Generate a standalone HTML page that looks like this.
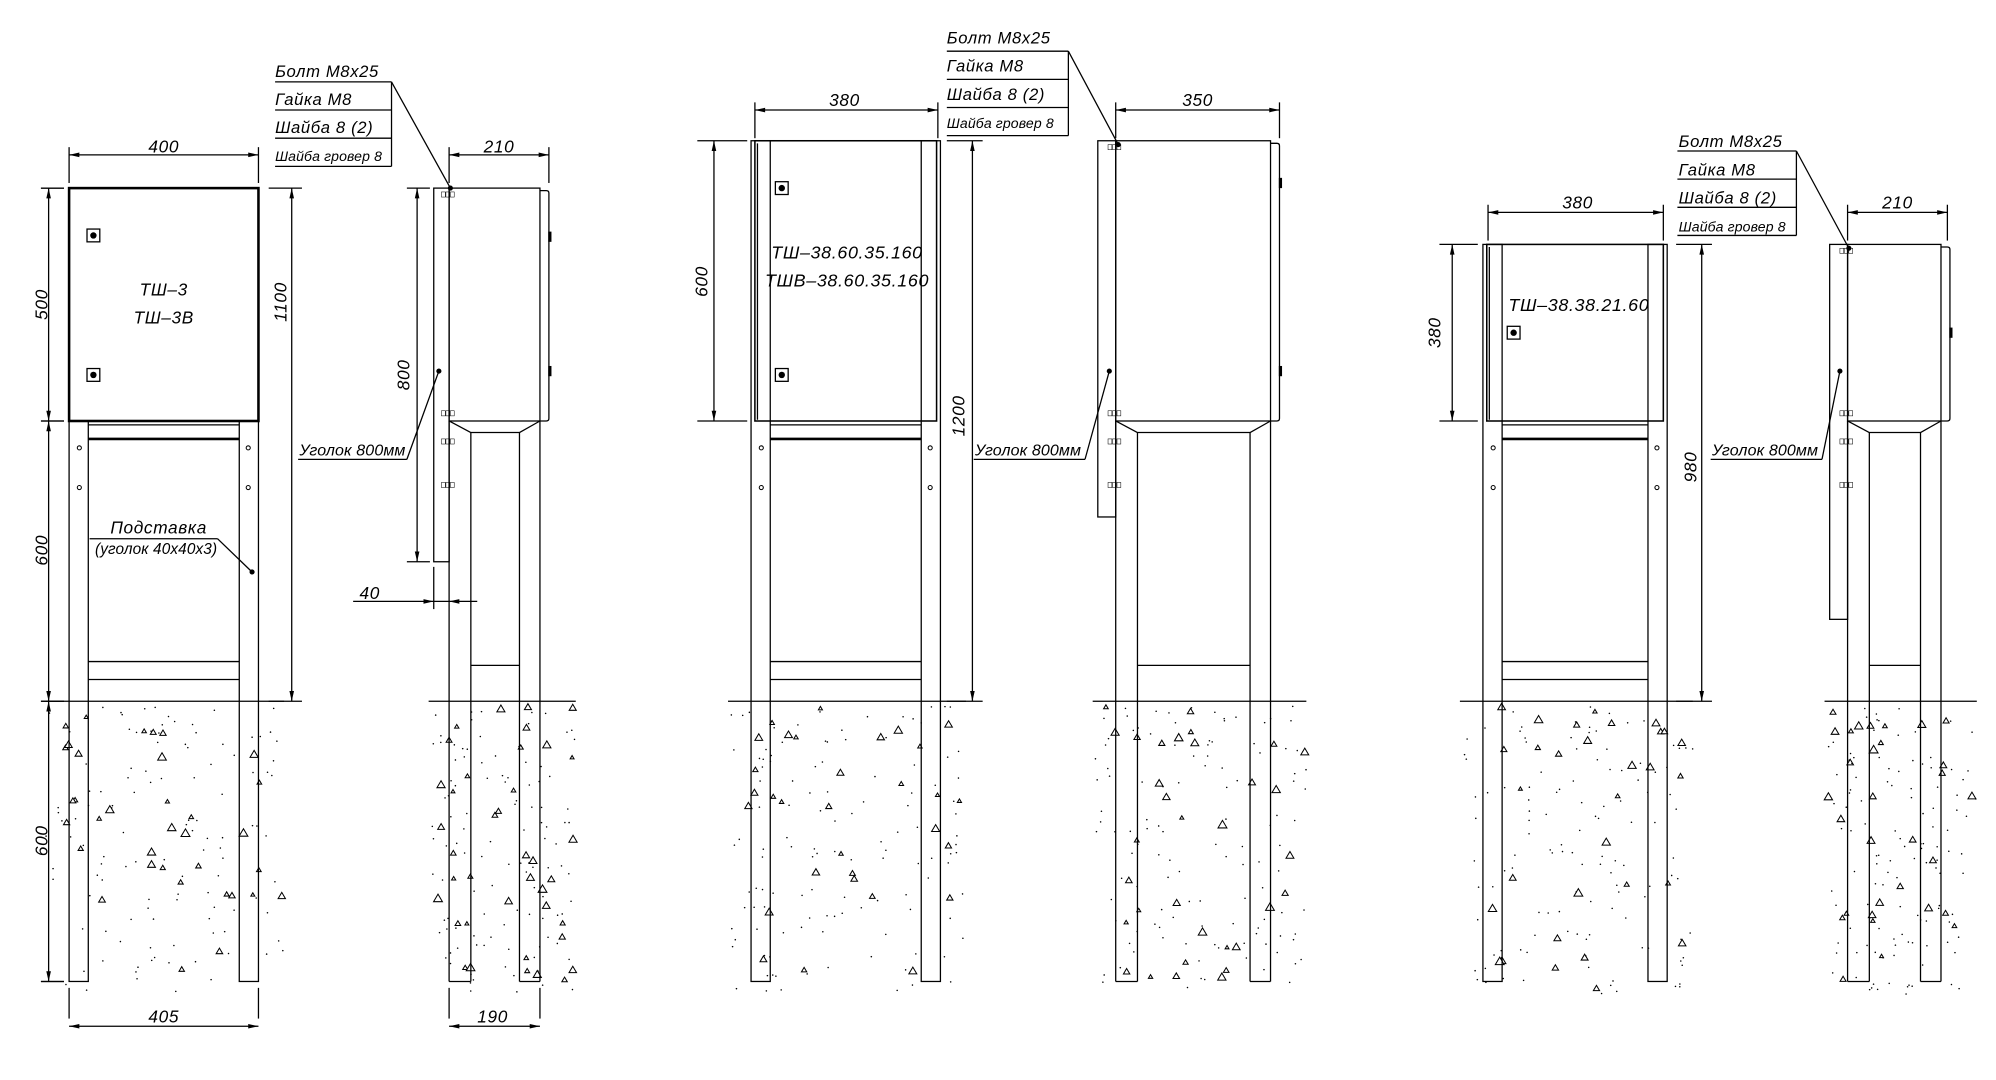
<!DOCTYPE html>
<html><head><meta charset="utf-8"><style>
html,body{margin:0;padding:0;background:#fff;width:1996px;height:1080px;overflow:hidden}
svg{display:block}
text{font-family:"Liberation Sans","DejaVu Sans",sans-serif;font-style:italic;fill:#000;letter-spacing:0.5px}
.t{letter-spacing:0.1px}
</style></head><body>
<svg id="s" width="1996" height="1080" viewBox="0 0 1560 844" preserveAspectRatio="none" xmlns="http://www.w3.org/2000/svg">
<g id="g" stroke="#000" stroke-width="1" fill="none"></g>
<g font-size="13.5">
<!-- panel 1 -->
<text x="128" y="119" text-anchor="middle">400</text>
<text x="128" y="231" text-anchor="middle">ТШ–3</text>
<text x="128" y="253" text-anchor="middle">ТШ–3В</text>
<text transform="translate(37,238) rotate(-90)" text-anchor="middle">500</text>
<text transform="translate(37,430) rotate(-90)" text-anchor="middle">600</text>
<text transform="translate(37,657) rotate(-90)" text-anchor="middle">600</text>
<text transform="translate(224,236) rotate(-90)" text-anchor="middle">1100</text>
<text x="128" y="799" text-anchor="middle">405</text>
<text x="124" y="417" text-anchor="middle">Подставка</text>
<text class="t" x="122" y="433" text-anchor="middle" font-size="12">(уголок 40x40x3)</text>
<text x="215" y="60" font-size="13">Болт  M8x25</text>
<text x="215" y="82" font-size="13">Гайка  M8</text>
<text x="215" y="104" font-size="13">Шайба  8  (2)</text>
<text class="t" x="215" y="126" font-size="11">Шайба  гровер  8</text>
<text x="390" y="119" text-anchor="middle">210</text>
<text transform="translate(320,293) rotate(-90)" text-anchor="middle">800</text>
<text class="t" x="234" y="356" font-size="12.5">Уголок 800мм</text>
<text x="289" y="468" text-anchor="middle">40</text>
<text x="385" y="799" text-anchor="middle">190</text>
<!-- panel 2 -->
<text x="660" y="83" text-anchor="middle">380</text>
<text x="662" y="202" text-anchor="middle" font-size="14">ТШ–38.60.35.160</text>
<text x="662" y="224" text-anchor="middle" font-size="14">ТШВ–38.60.35.160</text>
<text transform="translate(553,220) rotate(-90)" text-anchor="middle">600</text>
<text transform="translate(754,325) rotate(-90)" text-anchor="middle">1200</text>
<text x="740" y="34" font-size="13">Болт  M8x25</text>
<text x="740" y="56" font-size="13">Гайка  M8</text>
<text x="740" y="78" font-size="13">Шайба  8  (2)</text>
<text class="t" x="740" y="100" font-size="11">Шайба  гровер  8</text>
<text x="936" y="83" text-anchor="middle">350</text>
<text class="t" x="762" y="356" font-size="12.5">Уголок 800мм</text>
<!-- panel 3 -->
<text x="1233" y="163" text-anchor="middle">380</text>
<text x="1234" y="243" text-anchor="middle" font-size="14">ТШ–38.38.21.60</text>
<text transform="translate(1126,260) rotate(-90)" text-anchor="middle">380</text>
<text transform="translate(1326,365) rotate(-90)" text-anchor="middle">980</text>
<text x="1312" y="115" font-size="13">Болт  M8x25</text>
<text x="1312" y="137" font-size="13">Гайка  M8</text>
<text x="1312" y="159" font-size="13">Шайба  8  (2)</text>
<text class="t" x="1312" y="181" font-size="11">Шайба  гровер  8</text>
<text x="1483" y="163" text-anchor="middle">210</text>
<text class="t" x="1338" y="356" font-size="12.5">Уголок 800мм</text>
</g>
</svg>
<script>
var G=document.getElementById('g'),NS='http://www.w3.org/2000/svg';
function el(t,a){var e=document.createElementNS(NS,t);for(var k in a)e.setAttribute(k,a[k]);G.appendChild(e);return e;}
function L(x1,y1,x2,y2,w){el('line',{x1:x1,y1:y1,x2:x2,y2:y2,'stroke-width':w||1});}
function R(x,y,w,h,sw){el('rect',{x:x,y:y,width:w,height:h,'stroke-width':sw||1});}
function arr(x,y,dx,dy){var l=8,h=1.8;var px=-dy,py=dx;el('polygon',{points:x+','+y+' '+(x+dx*l+px*h)+','+(y+dy*l+py*h)+' '+(x+dx*l-px*h)+','+(y+dy*l-py*h),fill:'#000',stroke:'none'});}
function dimH(x1,x2,y,fy1,fy2){L(x1,y,x2,y);arr(x1,y,1,0);arr(x2,y,-1,0);L(x1,y-6,x1,fy1);L(x2,y-6,x2,fy2==null?fy1:fy2);}
function dimV(x,y1,y2,ex){L(x,y1,x,y2);arr(x,y1,0,1);arr(x,y2,0,-1);if(ex){L(x-6,y1,ex,y1);L(x-6,y2,ex,y2);}}
function dot(x,y){el('circle',{cx:x,cy:y,r:2,fill:'#000',stroke:'none'});}
function hole(x,y){el('circle',{cx:x,cy:y,r:1.6,'stroke-width':0.8});}
function latch(x,y){R(x-5,y-5,10,10,1);el('circle',{cx:x,cy:y,r:2.5,fill:'#000',stroke:'none'});}
function bolt(x,y){for(var i=0;i<3;i++)R(x-6+i*3.5,y-2,3,4,0.4);}
var seed=7;function rnd(){seed=(seed*9301+49297)%233280;return seed/233280;}
function soil(x1,x2){for(var i=0;i<150;i++){var x=x1+rnd()*(x2-x1),y=552+rnd()*225;if(rnd()<0.22){var s=1.5+rnd()*2;el('polygon',{points:x+','+(y-s)+' '+(x-s)+','+(y+s*0.7)+' '+(x+s)+','+(y+s*0.7),'stroke-width':0.8,fill:'#fff'});}else el('circle',{cx:x,cy:y,r:0.6,fill:'#000',stroke:'none'});}}
function front(bl,br,T,legFromTop){
 var lw=15;
 soil(bl-18,br+20);
 L(bl-18,548,br+20,548);
 var lt=legFromTop?T:329;
 R(bl,lt,lw,767-lt,1);R(br-lw,lt,lw,767-lt,1);
 R(bl+(legFromTop?3:0),T,(br-bl)-(legFromTop?6:0),329-T,legFromTop?1.2:2);
 if(legFromTop){L(bl+5,T+2,bl+5,328,1);}
 L(bl+lw,332,br-lw,332);L(bl+lw,343,br-lw,343,2);L(bl+lw,517,br-lw,517);L(bl+lw,531,br-lw,531);
 hole(bl+8,350);hole(bl+8,381);hole(br-8,350);hole(br-8,381);
}
function side(s,bx,d,T,sb,hinges){
 soil(s-2,d+28);
 L(s-4,548,d+28,548);
 R(s,T,bx-s,sb-T,1);
 R(bx,T,d-bx,329-T,1);
 el('path',{d:'M'+d+','+(T+2)+' h5 q2,0 2,2 v'+(329-T-6)+' q0,2 -2,2 h-5','stroke-width':1});
 hinges.forEach(function(y){el('rect',{x:d+6.5,y:y-4,width:2.5,height:8,fill:'#000',stroke:'none'});});
 var il=bx+17,ir=d-16;
 L(bx,329,il,338);L(d,329,ir,338);L(il,338,ir,338);
 L(bx,329,bx,767);L(d,329,d,767);L(il,338,il,767);L(ir,338,ir,767);L(bx,767,il,767);L(ir,767,d,767);
 L(il,520,ir,520);
 bolt(bx,T+5);bolt(bx,323);bolt(bx,345);bolt(bx,379);
}
function table(x,y0,r,tx,ty){for(var i=0;i<4;i++)L(x,y0+i*22,r,y0+i*22);L(r,y0,r,y0+66);L(r,y0,tx,ty);dot(tx,ty);}
function ugolok(x1,x2,y,tx,ty){L(x1,y,x2,y);L(x2,y,tx,ty);dot(tx,ty);}
// panel 1
front(54,202,147,false);
latch(73,184);latch(73,293);
dimH(54,202,121,143);dimV(38,147,329,50);dimV(38,329,548,50);dimV(38,548,767,50);
L(32,147,50,147);L(32,767,50,767);
dimV(228,147,548);L(210,147,236,147);L(210,548,236,548);
dimH(54,202,802,772);
L(70,421,170,421);L(170,421,197,447);dot(197,447);
side(339,351,422,147,439,[185,290]);
dimH(351,429,121,143);
dimV(326,147,439);L(318,147,336,147);L(318,439,336,439);
table(215,64,306,352,147);
ugolok(233,318,359,343,290);
L(276,470,373,470);arr(339,470,-1,0);arr(351,470,1,0);L(339,443,339,476);
dimH(351,422,802,772);
// panel 2
front(587,735,110,true);
latch(611,147);latch(611,293);
dimH(590,733,86,108);
dimV(558,110,329);L(545,110,584,110);L(545,329,584,329);
dimV(760,110,548);L(740,110,768,110);L(740,548,768,548);
side(858,872,993,110,404,[143,290]);
dimH(872,1000,86,108);
table(740,40,835,874,113);
ugolok(761,848,359,867,290);
// panel 3
front(1159,1303,191,true);
latch(1183,260);
dimH(1163,1300,166,188);
dimV(1135,191,329);L(1125,191,1155,191);L(1125,329,1155,329);
dimV(1330,191,548);L(1310,191,1338,191);L(1310,548,1338,548);
side(1430,1444,1517,191,484,[260]);
dimH(1444,1522,166,188);
table(1311,118,1404,1445,194);
ugolok(1337,1424,359,1438,290);
</script>
</body></html>
